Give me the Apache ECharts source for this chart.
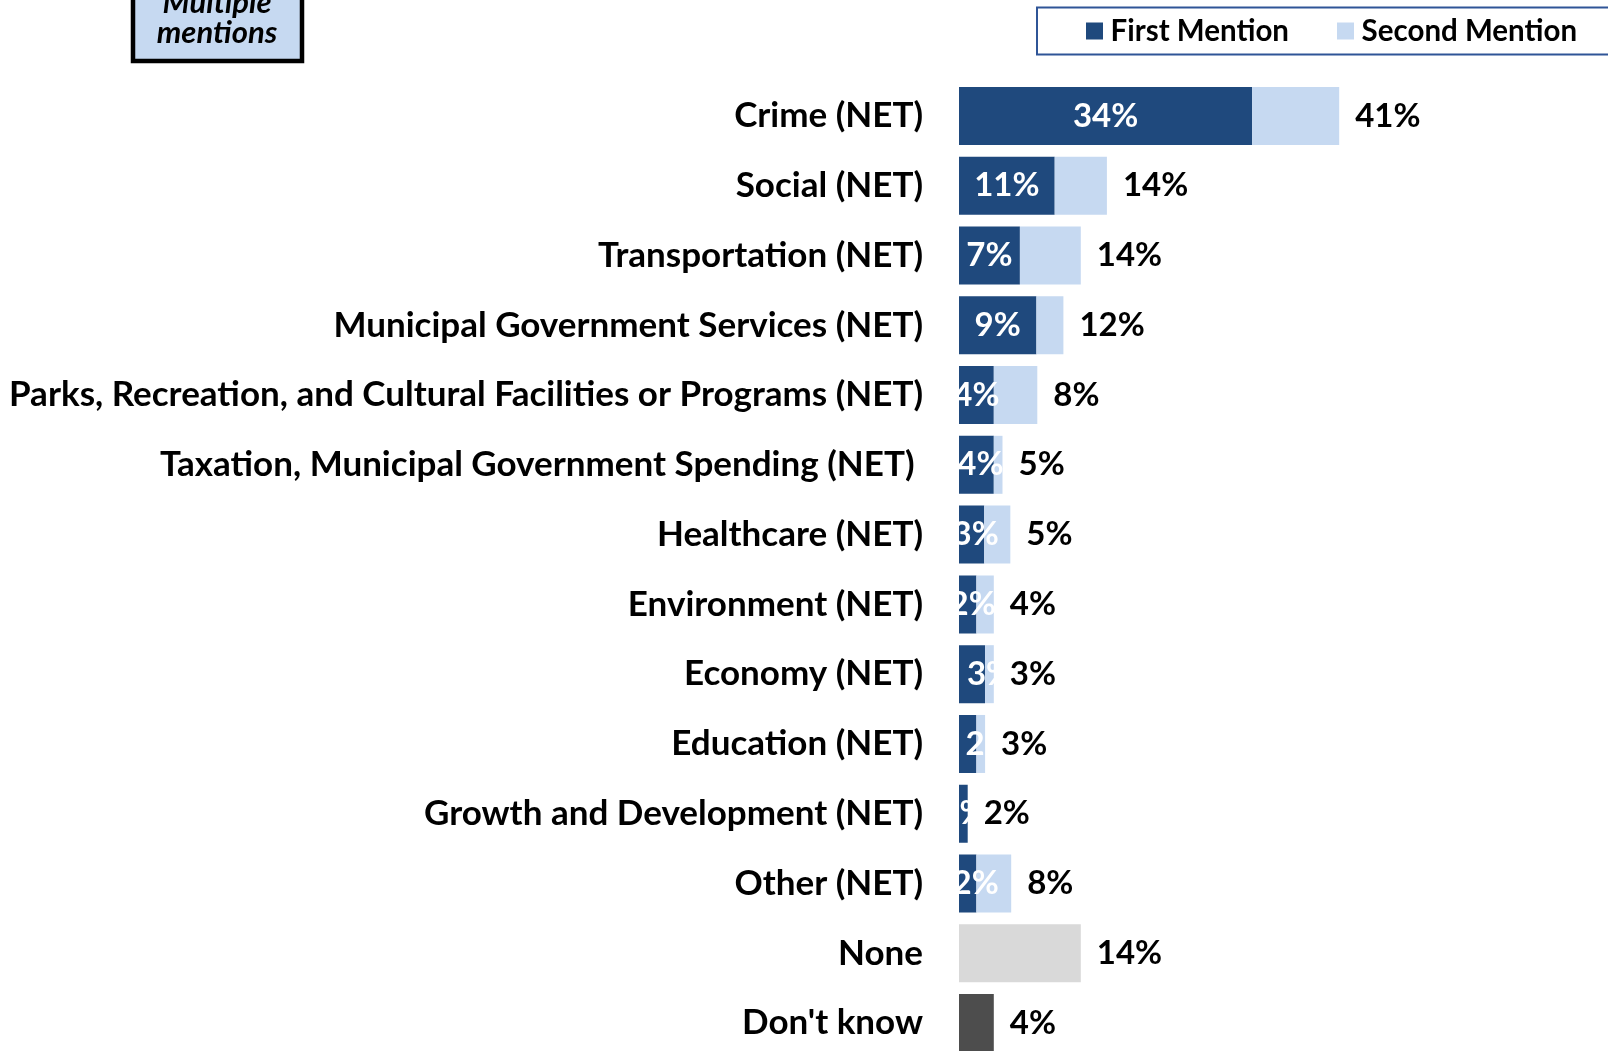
<!DOCTYPE html>
<html>
<head>
<meta charset="utf-8">
<script src="https://cdn.jsdelivr.net/npm/echarts@6/dist/echarts.min.js"></script>
<style>
html,body{margin:0;padding:0;background:#fff;}
#chart{width:1608px;height:1051px;}
</style>
</head>
<body>
<div id="chart"></div>
<script>
const categories = [
  'Crime (NET)',
  'Social (NET)',
  'Transportation (NET)',
  'Municipal Government Services (NET)',
  'Parks, Recreation, and Cultural Facilities or Programs (NET)',
  'Taxation, Municipal Government Spending (NET) ',
  'Healthcare (NET)',
  'Environment (NET)',
  'Economy (NET)',
  'Education (NET)',
  'Growth and Development (NET)',
  'Other (NET)',
  'None',
  "Don't know"
];
const firstMention  = [33.7, 11, 7, 8.9, 4, 4, 2.9, 2, 3, 2, 1, 2, 0, 0];
const secondMention = [10, 6, 7, 3.1, 5, 1, 3, 2, 1, 1, 0, 4, 0, 0];
const noneDontKnow  = [0, 0, 0, 0, 0, 0, 0, 0, 0, 0, 0, 0, 14, 4];
const netLabels     = ['41%', '14%', '14%', '12%', '8%', '5%', '5%', '4%', '3%', '3%', '2%', '8%', '14%', '4%'];

// label horizontal nudges (style only)
const labelShift    = [0, 0, 0, 0, 0, 4, 4, 5, 18, 21, 0, 8, 0, 0];

const FONT = 'Lato';
const FS = 33;

const chart = echarts.init(document.getElementById('chart'));
chart.setOption({
  animation: false,
  backgroundColor: '#ffffff',
  graphic: [
    { type: 'rect', shape: { x: 133, y: -40, width: 169, height: 101 },
      style: { fill: '#C6D9F1', stroke: '#000000', lineWidth: 4.5 } },
    { type: 'text', x: 217, y: 3,
      style: { text: 'Multiple', fontFamily: FONT, fontSize: 31, fontWeight: 'bold', fontStyle: 'italic',
               fill: '#000', align: 'center', verticalAlign: 'middle' } },
    { type: 'text', x: 217, y: 33,
      style: { text: 'mentions', fontFamily: FONT, fontSize: 31, fontWeight: 'bold', fontStyle: 'italic',
               fill: '#000', align: 'center', verticalAlign: 'middle' } },
    { type: 'rect', shape: { x: 1037, y: 7.5, width: 620, height: 47 },
      style: { fill: 'none', stroke: '#2F5597', lineWidth: 2 } }
  ],
  legend: {
    data: ['First Mention', 'Second Mention'],
    left: 1081, top: 11,
    itemWidth: 17, itemHeight: 17, itemGap: 48,
    icon: 'rect',
    textStyle: { fontFamily: FONT, fontSize: 29.5, fontWeight: 'bold', color: '#000', padding: [0, 0, 0, 2.6] },
    selectedMode: false
  },
  grid: { left: 959, top: 81, width: 435, height: 977, outerBoundsMode: 'none', containLabel: false },
  xAxis: { type: 'value', min: 0, max: 50, show: false },
  yAxis: {
    type: 'category', data: categories, inverse: true,
    axisLine: { show: false },
    axisTick: { show: false },
    axisLabel: { margin: 36, fontFamily: FONT, fontSize: 35, fontWeight: 'bold', color: '#000' }
  },
  series: [
    { name: 'First Mention', type: 'bar', stack: 'm', barWidth: 58,
      data: firstMention.map((v, i) => ({ value: v, label: { offset: [labelShift[i], 0] } })),
      itemStyle: { color: '#1F497D' },
      label: { show: true, position: 'inside', color: '#fff', fontFamily: FONT, fontSize: FS, fontWeight: 'bold',
               formatter: p => p.value > 0 ? Math.round(p.value) + '%' : '' } },
    { name: 'None/DK', type: 'bar', stack: 'm', data: noneDontKnow, barWidth: 58,
      itemStyle: { color: p => p.dataIndex === 12 ? '#D9D9D9' : '#4D4D4D' } },
    { name: 'Second Mention', type: 'bar', stack: 'm', data: secondMention, barWidth: 58,
      itemStyle: { color: '#C6D9F1' },
      label: { show: true, position: 'right', distance: 16, color: '#000', fontFamily: FONT, fontSize: FS, fontWeight: 'bold',
               formatter: p => netLabels[p.dataIndex] } }
  ]
});
</script>
</body>
</html>
